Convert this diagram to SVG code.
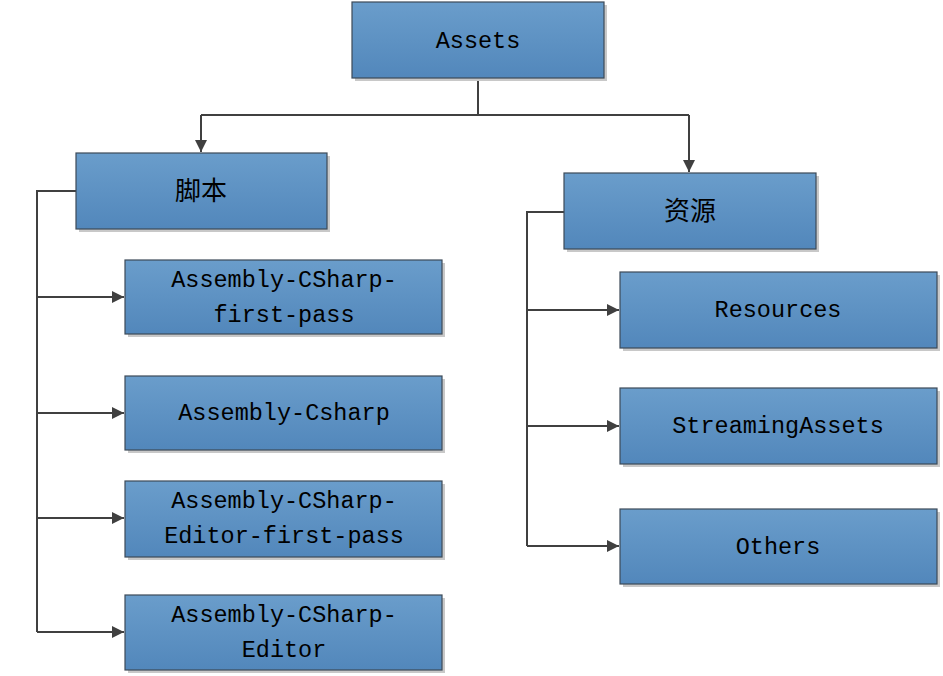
<svg xmlns="http://www.w3.org/2000/svg" width="943" height="676" viewBox="0 0 943 676">
<defs>
<linearGradient id="g" x1="0" y1="0" x2="0" y2="1">
<stop offset="0" stop-color="#6a9dcb"/>
<stop offset="1" stop-color="#5287bb"/>
</linearGradient>
<marker id="ar" viewBox="0 0 12 12" refX="12" refY="6" markerWidth="12" markerHeight="12" markerUnits="userSpaceOnUse" orient="auto">
<path d="M0,0 L12,6 L0,12 z" fill="#404040"/>
</marker>
</defs>
<style>
.box{fill:url(#g);stroke:#3c4a58;stroke-width:1.2}
.sh{fill:#c8c8c8}
.t{font-family:"Liberation Mono","DejaVu Sans Mono","Noto Sans CJK SC",monospace;font-size:23.5px;fill:#000;text-anchor:middle}
.cjk{font-family:"Noto Sans CJK SC",sans-serif;font-size:26px}
.c{fill:none;stroke:#404040;stroke-width:2}
</style>
<g id="connectors">
<path class="c" d="M478,78 V115 M201,115 H689"/>
<path class="c" d="M201,115 V152" marker-end="url(#ar)"/>
<path class="c" d="M689,115 V172" marker-end="url(#ar)"/>
<path class="c" d="M76,191 H37 V632"/>
<path class="c" d="M37,297 H124" marker-end="url(#ar)"/>
<path class="c" d="M37,413 H124" marker-end="url(#ar)"/>
<path class="c" d="M37,518 H124" marker-end="url(#ar)"/>
<path class="c" d="M37,632 H124" marker-end="url(#ar)"/>
<path class="c" d="M564,212 H527 V546"/>
<path class="c" d="M527,310 H619" marker-end="url(#ar)"/>
<path class="c" d="M527,426 H619" marker-end="url(#ar)"/>
<path class="c" d="M527,546 H619" marker-end="url(#ar)"/>
</g>
<g id="assets"><rect class="sh" x="355" y="5" width="252" height="76"/><rect class="box" x="352" y="2" width="252" height="76"/><text class="t" x="478" y="48">Assets</text></g>
<g id="jiaoben"><rect class="sh" x="79" y="156" width="251" height="76"/><rect class="box" x="76" y="153" width="251" height="76"/><text class="t cjk" x="201" y="200">脚本</text></g>
<g id="ziyuan"><rect class="sh" x="567" y="176" width="252" height="76"/><rect class="box" x="564" y="173" width="252" height="76"/><text class="t cjk" x="690" y="220">资源</text></g>
<g id="acfp"><rect class="sh" x="128" y="263" width="317" height="74"/><rect class="box" x="125" y="260" width="317" height="74"/><text class="t" x="284" y="287">Assembly-CSharp-</text><text class="t" x="284" y="322">first-pass</text></g>
<g id="ac"><rect class="sh" x="128" y="379" width="317" height="74"/><rect class="box" x="125" y="376" width="317" height="74"/><text class="t" x="284" y="420">Assembly-Csharp</text></g>
<g id="acefp"><rect class="sh" x="128" y="484" width="317" height="76"/><rect class="box" x="125" y="481" width="317" height="76"/><text class="t" x="284" y="508">Assembly-CSharp-</text><text class="t" x="284" y="543">Editor-first-pass</text></g>
<g id="ace"><rect class="sh" x="128" y="598" width="317" height="75"/><rect class="box" x="125" y="595" width="317" height="75"/><text class="t" x="284" y="622">Assembly-CSharp-</text><text class="t" x="284" y="657">Editor</text></g>
<g id="resources"><rect class="sh" x="623" y="275" width="317" height="76"/><rect class="box" x="620" y="272" width="317" height="76"/><text class="t" x="778" y="317">Resources</text></g>
<g id="streaming"><rect class="sh" x="623" y="391" width="317" height="76"/><rect class="box" x="620" y="388" width="317" height="76"/><text class="t" x="778" y="433">StreamingAssets</text></g>
<g id="others"><rect class="sh" x="623" y="512" width="317" height="75"/><rect class="box" x="620" y="509" width="317" height="75"/><text class="t" x="778" y="554">Others</text></g>
</svg>
